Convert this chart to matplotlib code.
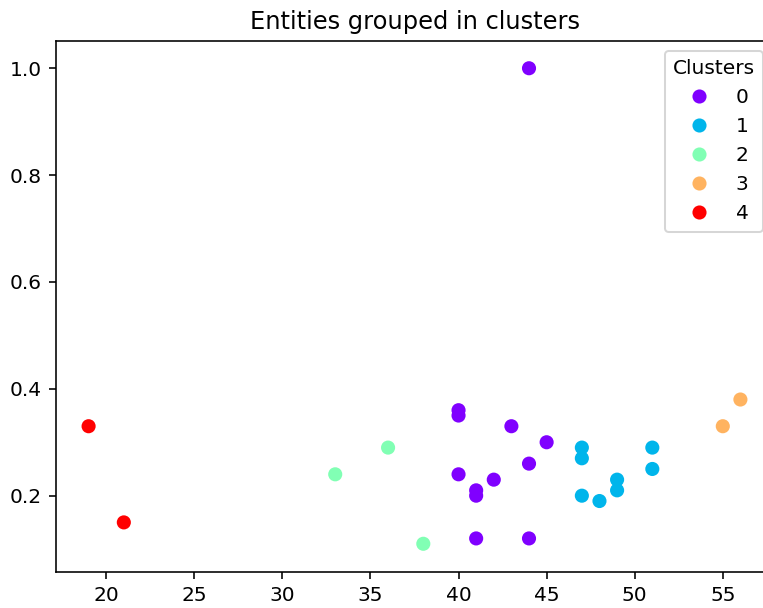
import matplotlib
matplotlib.use("Agg")
import matplotlib.pyplot as plt
import numpy as np

age = [44, 40, 40, 43, 45, 44, 40, 42, 41, 41, 41, 44,
       47, 47, 51, 51, 49, 49, 47, 48,
       33, 36, 38,
       55, 56,
       19, 21]
score = [1.00, 0.36, 0.35, 0.33, 0.30, 0.26, 0.24, 0.23, 0.21, 0.20, 0.12, 0.12,
         0.29, 0.27, 0.29, 0.25, 0.23, 0.21, 0.20, 0.19,
         0.24, 0.29, 0.11,
         0.33, 0.38,
         0.33, 0.15]
cluster = [0] * 12 + [1] * 8 + [2] * 3 + [3] * 2 + [4] * 2

dpi = 145
fig = plt.figure(figsize=(763 / dpi, 608 / dpi), dpi=dpi)
ax = fig.add_axes([56 / 763, (608 - 572.3) / 608, (773 - 56) / 763, (572.3 - 41) / 608])
sc = ax.scatter(age, score, c=cluster, cmap="rainbow", s=36)
ax.set_ylim(0.0566, 1.051)
ax.set_title("Entities grouped in clusters")
handles, labels = sc.legend_elements()
ax.legend(handles, labels, title="Clusters", loc="upper right")
fig.savefig("out.png", dpi=dpi)
